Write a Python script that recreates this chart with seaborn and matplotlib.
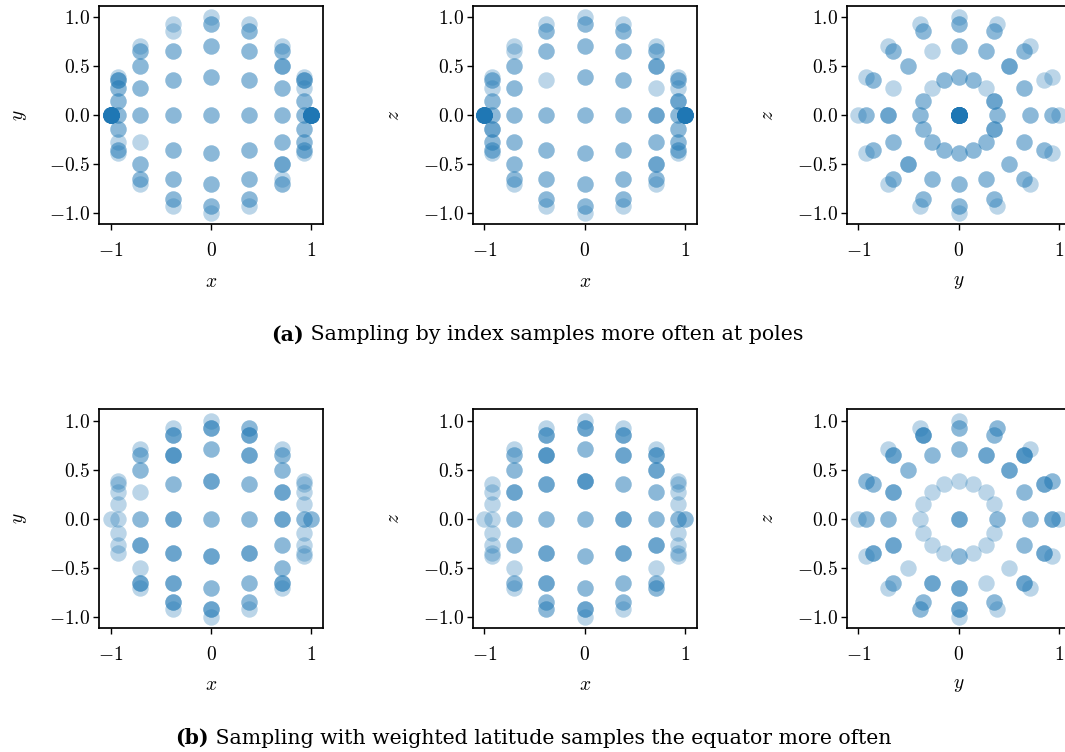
import numpy as np
import pandas as pd
import matplotlib
matplotlib.use("Agg")
import matplotlib.pyplot as plt
import seaborn as sns

# ---------------- data ----------------
# polar angle (from +x axis) of each latitude ring and longitude of each meridian, degrees
LAT_DEG = [22.5, 45.0, 67.5, 90.0, 112.5, 135.0, 157.5]
LON_DEG = [0.0, 22.5, 45.0, 67.5, 90.0, 112.5, 135.0, 157.5,
           180.0, 202.5, 225.0, 247.5, 270.0, 292.5, 315.0, 337.5]
POLE_DEG = [0.0, 180.0]

# number of samples that landed on each grid vertex (rows: rings, cols: meridians)
COUNTS_A = [
    [1, 2, 0, 1, 1, 1, 1, 1, 1, 1, 1, 1, 1, 1, 1, 1],
    [1, 1, 2, 1, 1, 1, 1, 0, 2, 1, 2, 1, 1, 1, 1, 1],
    [1, 1, 1, 1, 1, 1, 1, 1, 1, 1, 1, 1, 1, 1, 1, 1],
    [1, 1, 1, 1, 1, 1, 1, 1, 1, 1, 1, 1, 1, 1, 1, 1],
    [1, 0, 1, 1, 1, 1, 1, 1, 1, 1, 1, 1, 1, 1, 1, 1],
    [1, 1, 1, 1, 1, 0, 1, 1, 1, 1, 1, 1, 1, 1, 1, 1],
    [1, 1, 1, 1, 1, 1, 0, 1, 1, 1, 1, 1, 1, 1, 1, 2],
]
POLES_A = [16, 16]

COUNTS_B = [
    [1, 1, 0, 1, 1, 0, 1, 0, 1, 1, 0, 1, 1, 0, 1, 0],
    [1, 1, 2, 2, 1, 1, 1, 1, 1, 2, 1, 1, 2, 1, 0, 1],
    [2, 1, 2, 1, 1, 2, 1, 1, 1, 1, 1, 1, 1, 1, 1, 2],
    [1, 2, 1, 2, 1, 1, 1, 2, 1, 1, 1, 2, 1, 1, 1, 1],
    [1, 2, 2, 1, 1, 2, 2, 1, 1, 2, 1, 1, 2, 1, 2, 1],
    [1, 1, 1, 1, 1, 1, 1, 2, 1, 1, 0, 2, 1, 0, 1, 1],
    [1, 0, 1, 0, 0, 1, 0, 1, 0, 0, 1, 0, 1, 1, 0, 1],
]
POLES_B = [2, 1]

PANELS = [("x", "y"), ("x", "z"), ("y", "z")]
XTICKS = [-1, 0, 1]
XTICK_LABELS = ["$-1$", "$0$", "$1$"]
YTICKS = [-1.0, -0.5, 0.0, 0.5, 1.0]
YTICK_LABELS = ["$-1.0$", "$-0.5$", "$0.0$", "$0.5$", "$1.0$"]

CAP_A_LABEL = "(a)"
CAP_A_TEXT = "Sampling by index samples more often at poles"
CAP_B_LABEL = "(b)"
CAP_B_TEXT = "Sampling with weighted latitude samples the equator more often"


def build(counts, poles):
    rows = []
    for lat, ring in zip(LAT_DEG, counts):
        t = np.radians(lat)
        for lon, c in zip(LON_DEG, ring):
            p = np.radians(lon)
            for _ in range(c):
                rows.append((np.cos(t), np.sin(t) * np.cos(p), np.sin(t) * np.sin(p)))
    for lat, c in zip(POLE_DEG, poles):
        t = np.radians(lat)
        for _ in range(c):
            rows.append((np.cos(t), 0.0, 0.0))
    return pd.DataFrame(rows, columns=["x", "y", "z"])


# ---------------- style ----------------
sns.set_style("ticks")
plt.rcParams["font.family"] = ["DejaVu Serif"]
plt.rcParams["mathtext.fontset"] = "cm"
plt.rcParams["axes.linewidth"] = 1.25
plt.rcParams["xtick.major.width"] = 1.0
plt.rcParams["ytick.major.width"] = 1.0
plt.rcParams["xtick.major.size"] = 4.0
plt.rcParams["ytick.major.size"] = 4.0
plt.rcParams["axes.edgecolor"] = "black"
plt.rcParams["xtick.color"] = "black"
plt.rcParams["ytick.color"] = "black"
plt.rcParams["xtick.labelcolor"] = "black"
plt.rcParams["ytick.labelcolor"] = "black"
plt.rcParams["axes.labelcolor"] = "black"
plt.rcParams["text.color"] = "black"

W, H = 1065, 752
DPI = 100
fig = plt.figure(figsize=(W / DPI, H / DPI), dpi=DPI)

LEFTS = [99.0, 472.7, 846.7]
TOPS = [5.7, 409.3]
AW, AH = 224.0, 218.6
LIM = 1.115
COLOR = "#1f77b4"
FS = 14

for r, (counts, poles) in enumerate([(COUNTS_A, POLES_A), (COUNTS_B, POLES_B)]):
    df = build(counts, poles)
    for c, (xv, yv) in enumerate(PANELS):
        ax = fig.add_axes([LEFTS[c] / W, (H - TOPS[r] - AH) / H, AW / W, AH / H])
        sns.scatterplot(data=df, x=xv, y=yv, ax=ax, color=COLOR, alpha=0.3,
                        s=140, linewidth=0, legend=False)
        ax.set_xlim(-LIM, LIM)
        ax.set_ylim(-LIM, LIM)
        ax.set_xticks(XTICKS)
        ax.set_xticklabels(XTICK_LABELS, fontsize=FS)
        ax.set_yticks(YTICKS)
        ax.set_yticklabels(YTICK_LABELS, fontsize=FS)
        ax.tick_params(axis="x", pad=9)
        ax.tick_params(axis="y", pad=2.5)
        ax.set_xlabel(f"${xv}$", fontsize=FS, labelpad=9)
        ax.set_ylabel(f"${yv}$", fontsize=FS, labelpad=14)
        for sp in ax.spines.values():
            sp.set_visible(True)
            sp.set_color("black")


def caption(label, text, cx, cy, target_w):
    renderer = fig.canvas.get_renderer()
    fs = 12.0
    t1 = fig.text(0, cy, label, fontsize=fs, fontweight="bold",
                  family="DejaVu Serif", va="center", ha="left", color="black")
    t2 = fig.text(0, cy, " " + text, fontsize=fs, family="DejaVu Serif",
                  va="center", ha="left", color="black")
    w = t1.get_window_extent(renderer).width + t2.get_window_extent(renderer).width
    fs = fs * target_w / w
    t1.set_fontsize(fs)
    t2.set_fontsize(fs)
    w1 = t1.get_window_extent(renderer).width
    w2 = t2.get_window_extent(renderer).width
    x0 = cx - (w1 + w2) / 2.0
    t1.set_x(x0 / W)
    t2.set_x((x0 + w1) / W)


caption(CAP_A_LABEL, CAP_A_TEXT, 537.0, (H - 335.0) / H, 530.0)
caption(CAP_B_LABEL, CAP_B_TEXT, 533.0, (H - 738.0) / H, 711.0)

fig.savefig("out.png", dpi=DPI)
